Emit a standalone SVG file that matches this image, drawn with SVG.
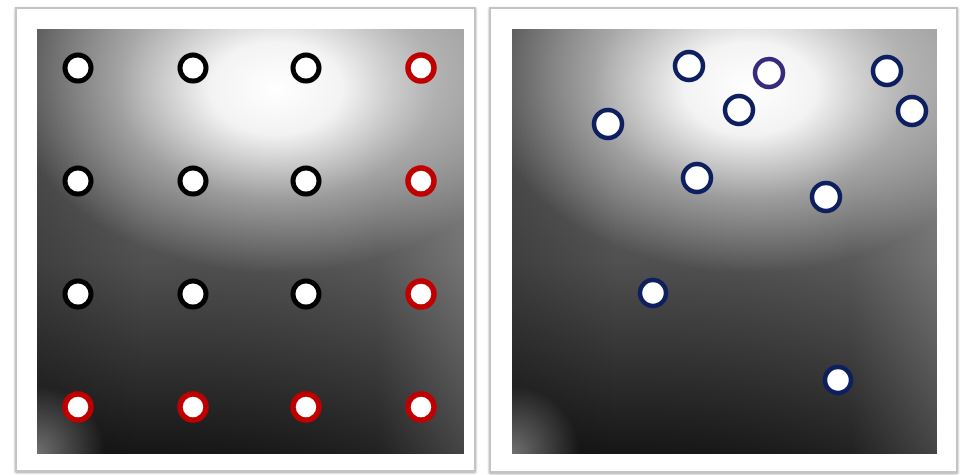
<svg xmlns="http://www.w3.org/2000/svg" width="961" height="475" viewBox="0 0 961 475">
<defs>
<linearGradient id="baseV" x1="0" y1="0" x2="0" y2="1">
<stop offset="0" stop-color="#707070"/>
<stop offset="0.55" stop-color="#505050"/>
<stop offset="1" stop-color="#161616"/>
</linearGradient>
<linearGradient id="edgeL" x1="0" y1="0" x2="1" y2="0">
<stop offset="0" stop-color="#000" stop-opacity="0.22"/>
<stop offset="0.25" stop-color="#000" stop-opacity="0"/>
<stop offset="0.8" stop-color="#fff" stop-opacity="0.05"/>
<stop offset="1" stop-color="#fff" stop-opacity="0.2"/>
</linearGradient>
<radialGradient id="glow" cx="0.56" cy="0.14" r="0.62" fx="0.56" fy="0.14" gradientTransform="translate(0.56 0.14) scale(1 0.7) translate(-0.56 -0.14)">
<stop offset="0" stop-color="#fff" stop-opacity="1"/>
<stop offset="0.25" stop-color="#fff" stop-opacity="0.92"/>
<stop offset="0.6" stop-color="#fff" stop-opacity="0.4"/>
<stop offset="1" stop-color="#fff" stop-opacity="0"/>
</radialGradient>
<radialGradient id="corner" cx="0" cy="1" r="0.16">
<stop offset="0" stop-color="#fff" stop-opacity="0.4"/>
<stop offset="1" stop-color="#fff" stop-opacity="0"/>
</radialGradient>
<filter id="shadow" x="-5%" y="-5%" width="110%" height="110%">
<feDropShadow dx="0" dy="1" stdDeviation="1.2" flood-color="#000" flood-opacity="0.35"/>
</filter>
<filter id="soft" x="-50%" y="-50%" width="200%" height="200%">
<feGaussianBlur stdDeviation="0.7"/>
</filter>
</defs>
<style>
.frame{fill:#fff;stroke:#c4c4c4;stroke-width:2;filter:url(#shadow)}
.blk{fill:#fff;stroke:#000;stroke-width:5}
.red{fill:#fff;stroke:#c00000;stroke-width:5.5;filter:url(#soft)}
.nav{fill:#fff;stroke:#0d1f5e;stroke-width:4.5}
.pur{fill:#fff;stroke:#3a2a7e;stroke-width:4.5}
</style>
<rect width="961" height="475" fill="#fff"/>
<g id="panel-left">
<rect class="frame" x="16" y="8" width="459" height="463"/>
<rect x="37" y="29" width="427" height="425" fill="url(#baseV)"/>
<rect x="37" y="29" width="427" height="425" fill="url(#edgeL)"/>
<rect x="37" y="29" width="427" height="425" fill="url(#glow)"/>
<rect x="37" y="29" width="427" height="425" fill="url(#corner)"/>
</g>
<g id="panel-right">
<rect class="frame" x="490" y="8" width="467" height="464"/>
<rect x="512" y="29" width="425" height="425" fill="url(#baseV)"/>
<rect x="512" y="29" width="425" height="425" fill="url(#edgeL)"/>
<rect x="512" y="29" width="425" height="425" fill="url(#glow)"/>
<rect x="512" y="29" width="425" height="425" fill="url(#corner)"/>
</g>
<g id="grid-nodes">
<g id="n-1-1"><circle class="blk" cx="78" cy="68" r="13"/></g>
<g id="n-1-2"><circle class="blk" cx="193" cy="68" r="13"/></g>
<g id="n-1-3"><circle class="blk" cx="306" cy="68" r="13"/></g>
<g id="n-1-4"><circle class="red" cx="421" cy="68" r="13"/></g>
<g id="n-2-1"><circle class="blk" cx="78" cy="181" r="13"/></g>
<g id="n-2-2"><circle class="blk" cx="193" cy="181" r="13"/></g>
<g id="n-2-3"><circle class="blk" cx="306" cy="181" r="13"/></g>
<g id="n-2-4"><circle class="red" cx="421" cy="181" r="13"/></g>
<g id="n-3-1"><circle class="blk" cx="78" cy="294" r="13"/></g>
<g id="n-3-2"><circle class="blk" cx="193" cy="294" r="13"/></g>
<g id="n-3-3"><circle class="blk" cx="306" cy="294" r="13"/></g>
<g id="n-3-4"><circle class="red" cx="421" cy="294" r="13"/></g>
<g id="n-4-1"><circle class="red" cx="78" cy="407" r="13"/></g>
<g id="n-4-2"><circle class="red" cx="193" cy="407" r="13"/></g>
<g id="n-4-3"><circle class="red" cx="306" cy="407" r="13"/></g>
<g id="n-4-4"><circle class="red" cx="421" cy="407" r="13"/></g>
</g>
<g id="scatter-nodes">
<g id="s1"><circle class="nav" cx="689" cy="66" r="14"/></g>
<g id="s2"><circle class="pur" cx="769" cy="73" r="14"/></g>
<g id="s3"><circle class="nav" cx="887" cy="71" r="14"/></g>
<g id="s4"><circle class="nav" cx="739" cy="110" r="14"/></g>
<g id="s5"><circle class="nav" cx="912" cy="111" r="14"/></g>
<g id="s6"><circle class="nav" cx="608" cy="124" r="14"/></g>
<g id="s7"><circle class="nav" cx="697" cy="178" r="14"/></g>
<g id="s8"><circle class="nav" cx="826" cy="197" r="14"/></g>
<g id="s9"><circle class="nav" cx="653" cy="293" r="13"/></g>
<g id="s10"><circle class="nav" cx="838" cy="380" r="13"/></g>
</g>
</svg>
